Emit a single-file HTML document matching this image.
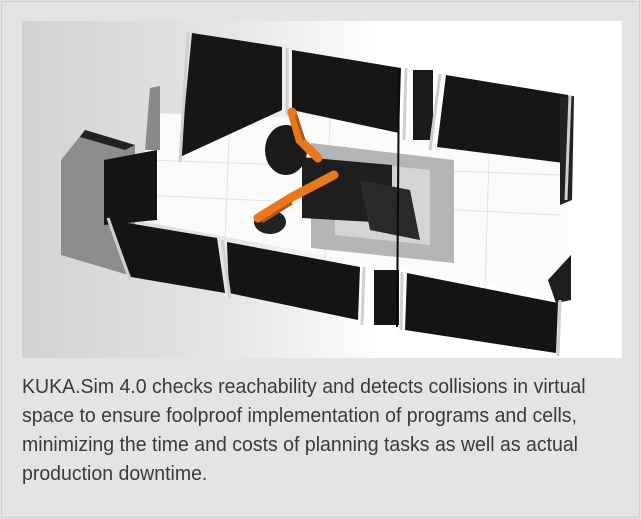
<!DOCTYPE html>
<html><head><style>
html,body{margin:0;padding:0;}
body{width:641px;height:519px;background:#e4e4e4;position:relative;overflow:hidden;font-family:"Liberation Sans",sans-serif;}
.frame{position:absolute;left:1px;top:1px;width:637px;height:515px;border:1px solid #d0d0d0;}
svg{position:absolute;left:22px;top:21px;}
.cap{position:absolute;left:22px;top:373px;white-space:nowrap;font-size:20px;line-height:29px;color:#3a3a3a;transform:scaleX(0.975);transform-origin:0 0;}
</style></head><body>
<div class="frame"></div>
<svg width="600" height="337" viewBox="22 21 600 337">
<defs><linearGradient id="bg" x1="0" x2="1" y1="0" y2="0"><stop offset="0" stop-color="#d2d2d2"/><stop offset="0.35" stop-color="#e6e6e6"/><stop offset="0.6" stop-color="#ffffff"/></linearGradient></defs>
<rect x="22" y="21" width="600" height="337" fill="url(#bg)"/>
<polygon points="150,113 572,127 565,300 135,220" fill="#fbfbfb"/>
<g stroke="#e2e2e2" stroke-width="1" fill="none">
<line x1="150" y1="160" x2="560" y2="175"/><line x1="145" y1="195" x2="560" y2="215"/>
<line x1="230" y1="115" x2="225" y2="240"/><line x1="330" y1="118" x2="325" y2="260"/><line x1="490" y1="125" x2="485" y2="290"/>
</g>
<polygon points="192,33 282,47 282,110 180,157" fill="#161616"/>
<polygon points="292,50 401,68 399,133 292,110" fill="#161616"/>
<rect x="413" y="70" width="20" height="70" fill="#1a1a1a"/>
<polygon points="446,75 568,95 564,163 437,147" fill="#161616"/>
<polygon points="560,97 574,96 572,200 560,205" fill="#222"/>
<g stroke="#cfcfcf" stroke-width="3">
<line x1="188" y1="32" x2="180" y2="162"/><line x1="287" y1="48" x2="287" y2="115"/>
<line x1="406" y1="68" x2="404" y2="140"/><line x1="440" y1="74" x2="430" y2="150"/><line x1="570" y1="95" x2="566" y2="200"/>
</g>
<polygon points="150,88 160,86 160,150 145,150" fill="#8a8a8a"/>
<polygon points="61,160 85,130 135,145 135,277 61,255" fill="#8c8c8c"/>
<polygon points="85,130 135,145 125,150 80,137" fill="#222"/>
<polygon points="104,160 157,150 157,220 104,225" fill="#151515"/>
<polygon points="311,143 454,160 454,263 311,248" fill="#b5b5b5"/>
<polygon points="335,160 430,170 430,245 335,235" fill="#d4d4d4"/>
<polygon points="302,157 392,165 392,223 302,218" fill="#1e1e1e"/>
<polygon points="360,180 410,190 420,240 370,230" fill="#2a2a2a"/>
<ellipse cx="286" cy="150" rx="21" ry="25" fill="#1a1a1a"/>
<ellipse cx="270" cy="222" rx="16" ry="12" fill="#222"/>
<g stroke="#e8781e" stroke-width="9" stroke-linecap="round" fill="none">
<polyline points="292,112 300,140 318,158"/>
<polyline points="258,218 292,197 334,175"/>
</g>
<g stroke="#b85510" stroke-width="3" fill="none"><line x1="296" y1="115" x2="304" y2="140"/><line x1="262" y1="222" x2="292" y2="203"/></g>
<polygon points="110,220 217,238 225,293 131,277" fill="#141414"/>
<polygon points="227,242 360,267 358,320 229,293" fill="#141414"/>
<rect x="374" y="270" width="25" height="55" fill="#151515"/>
<polygon points="407,273 558,303 556,353 405,330" fill="#141414"/>
<polygon points="548,280 571,255 571,300 556,303" fill="#1e1e1e"/>
<line x1="399" y1="68" x2="397" y2="327" stroke="#0a0a0a" stroke-width="2"/>
<g stroke="#d0d0d0" stroke-width="3">
<line x1="108" y1="218" x2="130" y2="280"/><line x1="222" y1="240" x2="230" y2="298"/>
<line x1="364" y1="267" x2="362" y2="325"/><line x1="402" y1="272" x2="401" y2="330"/><line x1="560" y1="300" x2="558" y2="356"/>
</g>
</svg>
<div class="cap">KUKA.Sim 4.0 checks reachability and detects collisions in virtual<br>space to ensure foolproof implementation of programs and cells,<br>minimizing the time and costs of planning tasks as well as actual<br>production downtime.</div>
</body></html>
